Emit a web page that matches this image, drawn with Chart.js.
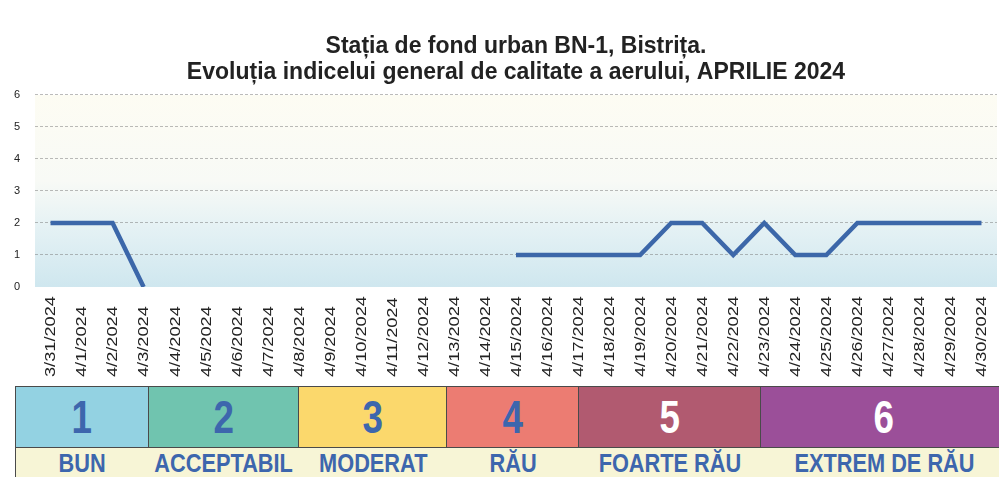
<!DOCTYPE html>
<html lang="ro">
<head>
  <meta charset="UTF-8" />
  <title>Indicele general de calitate a aerului - BN-1 Bistrița</title>
  <script src="https://cdn.jsdelivr.net/npm/chart.js"></script>
  <style>
    body {
      margin: 0;
      background: #ffffff;
      width: 999px;
      height: 477px;
      overflow: hidden;
      position: relative;
      font-family: 'Liberation Sans', Arial, sans-serif;
    }

    #wrap {
      position: absolute;
      left: 0;
      top: 0;
      width: 999px;
      height: 380px;
    }

    .legend {
      position: absolute;
      left: 15px;
      top: 386px;
    }

    .row {
      display: flex;
    }

    .row div {
      box-sizing: border-box;
      display: flex;
      align-items: center;
      justify-content: center;
    }

    .nums div {
      height: 61px;
      border-top: 1px solid #4a4a4a;
      border-right: 1px solid #4a4a4a;
      font-weight: bold;
      font-size: 46px;
    }

    .nums div:first-child, .names div:first-child {
      border-left: 1px solid #4a4a4a;
    }

    .names div {
      height: 34px;
      border-top: 1px solid #4a4a4a;
      background: #f7f5d6;
      color: #3d66ad;
      font-weight: bold;
      font-size: 25px;
      padding-bottom: 3px;
    }

    .row span {
      display: inline-block;
      transform: scaleX(0.8);
      white-space: nowrap;
    }

    .names span {
      transform: scaleX(0.87);
    }
  </style>
</head>
<body>
  <div id="wrap">
    <canvas id="aqChart" width="999" height="380"></canvas>
  </div>

  <div class="legend">
    <div class="row nums" id="nums"></div>
    <div class="row names" id="names"></div>
  </div>

  <script>
    const days = [
      "3/31/2024", "4/1/2024", "4/2/2024", "4/3/2024", "4/4/2024", "4/5/2024",
      "4/6/2024", "4/7/2024", "4/8/2024", "4/9/2024", "4/10/2024", "4/11/2024",
      "4/12/2024", "4/13/2024", "4/14/2024", "4/15/2024", "4/16/2024", "4/17/2024",
      "4/18/2024", "4/19/2024", "4/20/2024", "4/21/2024", "4/22/2024", "4/23/2024",
      "4/24/2024", "4/25/2024", "4/26/2024", "4/27/2024", "4/28/2024", "4/29/2024",
      "4/30/2024"
    ];

    // indicele general zilnic (null = lipsa date)
    const indexValues = [
      2, 2, 2, 0, null, null,
      null, null, null, null, null, null,
      null, null, null, 1, 1, 1,
      1, 1, 2, 2, 1, 2,
      1, 1, 2, 2, 2, 2,
      2
    ];

    const yTicks = [0, 1, 2, 3, 4, 5, 6];

    const titleLines = [
      "Stația de fond urban BN-1, Bistrița.",
      "Evoluția indicelui general de calitate a aerului, APRILIE 2024"
    ];

    // legenda cu clasele indicelui
    const levelNumbers = ["1", "2", "3", "4", "5", "6"];
    const levelNames = ["BUN", "ACCEPTABIL", "MODERAT", "RĂU", "FOARTE RĂU", "EXTREM DE RĂU"];
    const levelColors = ["#93d2e2", "#70c4af", "#fbd86c", "#ec7c72", "#b15a70", "#9b4f99"];
    const levelTextColors = ["#3d66ad", "#3d66ad", "#3d66ad", "#3d66ad", "#ffffff", "#ffffff"];
    const levelWidths = [134, 150, 148, 132, 182, 246];

    const numsRow = document.getElementById("nums");
    const namesRow = document.getElementById("names");
    levelNumbers.forEach((n, i) => {
      const cell = document.createElement("div");
      cell.style.width = levelWidths[i] + "px";
      cell.style.background = levelColors[i];
      cell.style.color = levelTextColors[i];
      cell.innerHTML = "<span>" + n + "</span>";
      numsRow.appendChild(cell);

      const name = document.createElement("div");
      name.style.width = levelWidths[i] + "px";
      name.innerHTML = "<span>" + levelNames[i] + "</span>";
      namesRow.appendChild(name);
    });

    // fundal degrade in zona graficului
    const bgPlugin = {
      id: "bg",
      beforeDraw(chart) {
        const { ctx, chartArea: a } = chart;
        const g = ctx.createLinearGradient(0, a.bottom, 0, a.top);
        g.addColorStop(0, "#cfe7ef");
        g.addColorStop(0.3, "#e4f1f4");
        g.addColorStop(0.55, "#f8faf6");
        g.addColorStop(1, "#fdfcf3");
        ctx.save();
        ctx.fillStyle = g;
        ctx.fillRect(a.left, a.top, a.right - a.left, a.bottom - a.top);
        ctx.restore();
      }
    };

    // etichete de data rotite, aliniate jos
    const dateLabels = {
      id: "dateLabels",
      afterDraw(chart) {
        const { ctx } = chart;
        const xs = chart.scales.x;
        ctx.save();
        ctx.fillStyle = "#222";
        ctx.font = "14px 'Liberation Sans', Arial, sans-serif";
        ctx.textAlign = "left";
        ctx.textBaseline = "middle";
        days.forEach((d, i) => {
          ctx.save();
          ctx.translate(xs.getPixelForTick(i) + 1, 377);
          ctx.rotate(-Math.PI / 2);
          ctx.scale(1.3, 1);
          ctx.fillText(d, 0, 0);
          ctx.restore();
        });
        ctx.restore();
      }
    };

    new Chart(document.getElementById("aqChart"), {
      type: "line",
      data: {
        labels: days,
        datasets: [{
          data: indexValues,
          borderColor: "#3c67a9",
          borderWidth: 4.5,
          pointRadius: 0,
          tension: 0,
          spanGaps: false,
          fill: false
        }]
      },
      options: {
        responsive: false,
        animation: false,
        devicePixelRatio: 1,
        layout: { padding: { top: 34, right: 2, bottom: 0, left: 0 } },
        plugins: {
          legend: { display: false },
          tooltip: { enabled: false },
          title: {
            display: true,
            text: titleLines,
            fullSize: false,
            color: "#222",
            font: { family: "'Liberation Sans', Arial, sans-serif", size: 23, weight: "bold", lineHeight: 1.13 },
            padding: { top: 0, bottom: 9 }
          }
        },
        scales: {
          x: {
            offset: true,
            grid: { display: false },
            border: { display: false },
            ticks: { display: false },
            afterFit: s => { s.height = 93; }
          },
          y: {
            min: 0,
            max: 6,
            afterFit: s => { s.width = 35; },
            afterBuildTicks: s => { s.ticks = yTicks.map(v => ({ value: v })); },
            border: { display: false, dash: [3, 2] },
            grid: {
              drawTicks: false,
              color: c => c.tick && c.tick.value === 0 ? "rgba(0,0,0,0)" : "rgba(120,120,120,0.5)",
              lineWidth: 1
            },
            ticks: {
              padding: 15,
              color: "#222",
              font: { family: "'Liberation Sans', Arial, sans-serif", size: 11 }
            }
          }
        }
      },
      plugins: [bgPlugin, dateLabels]
    });
  </script>
</body>
</html>
